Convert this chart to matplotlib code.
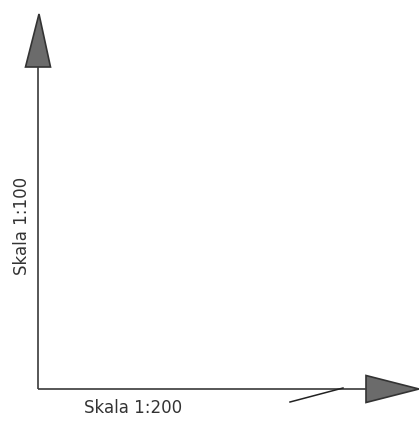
import matplotlib
matplotlib.use("Agg")
import matplotlib.pyplot as plt
from matplotlib.patches import Polygon

# Diagram content
labels = ["Skala 1:100", "Skala 1:200"]
origin = (38, 389)
y_end = 67          # top of vertical shaft
x_end = 366         # right end of horizontal shaft
head_len = 53
head_half = 12.5
stray_line_x = [290, 343]
stray_line_y = [402, 388]

fig = plt.figure(figsize=(4.19, 4.28), dpi=100)
ax = fig.add_axes([0, 0, 1, 1])
ax.set_xlim(0, 419)
ax.set_ylim(428, 0)
ax.axis("off")

line_col = "#3a3a3a"
fill_col = "#6b6b6b"

# shafts
ax.plot([origin[0], origin[0]], [origin[1], y_end], color=line_col, lw=1.2, solid_capstyle="butt")
ax.plot([origin[0], x_end], [origin[1], origin[1]], color=line_col, lw=1.2, solid_capstyle="butt")
ax.plot(stray_line_x, stray_line_y, color="#222222", lw=1.1)

# heads
up = Polygon([(origin[0] - head_half, y_end), (origin[0] + head_half, y_end),
              (origin[0] + 1, y_end - head_len)], closed=True,
             facecolor=fill_col, edgecolor="#333333", lw=1.2)
right = Polygon([(x_end, origin[1] - head_half - 1), (x_end, origin[1] + head_half + 1),
                 (x_end + head_len, origin[1])], closed=True,
                facecolor=fill_col, edgecolor="#333333", lw=1.2)
ax.add_patch(up)
ax.add_patch(right)

ax.text(22, 226, labels[0], rotation=90, ha="center", va="center",
        fontsize=12, color="#333333", family="DejaVu Sans")
ax.text(133.5, 408, labels[1], ha="center", va="center",
        fontsize=12, color="#333333", family="DejaVu Sans")

fig.savefig("out.png", dpi=100, facecolor="white")
